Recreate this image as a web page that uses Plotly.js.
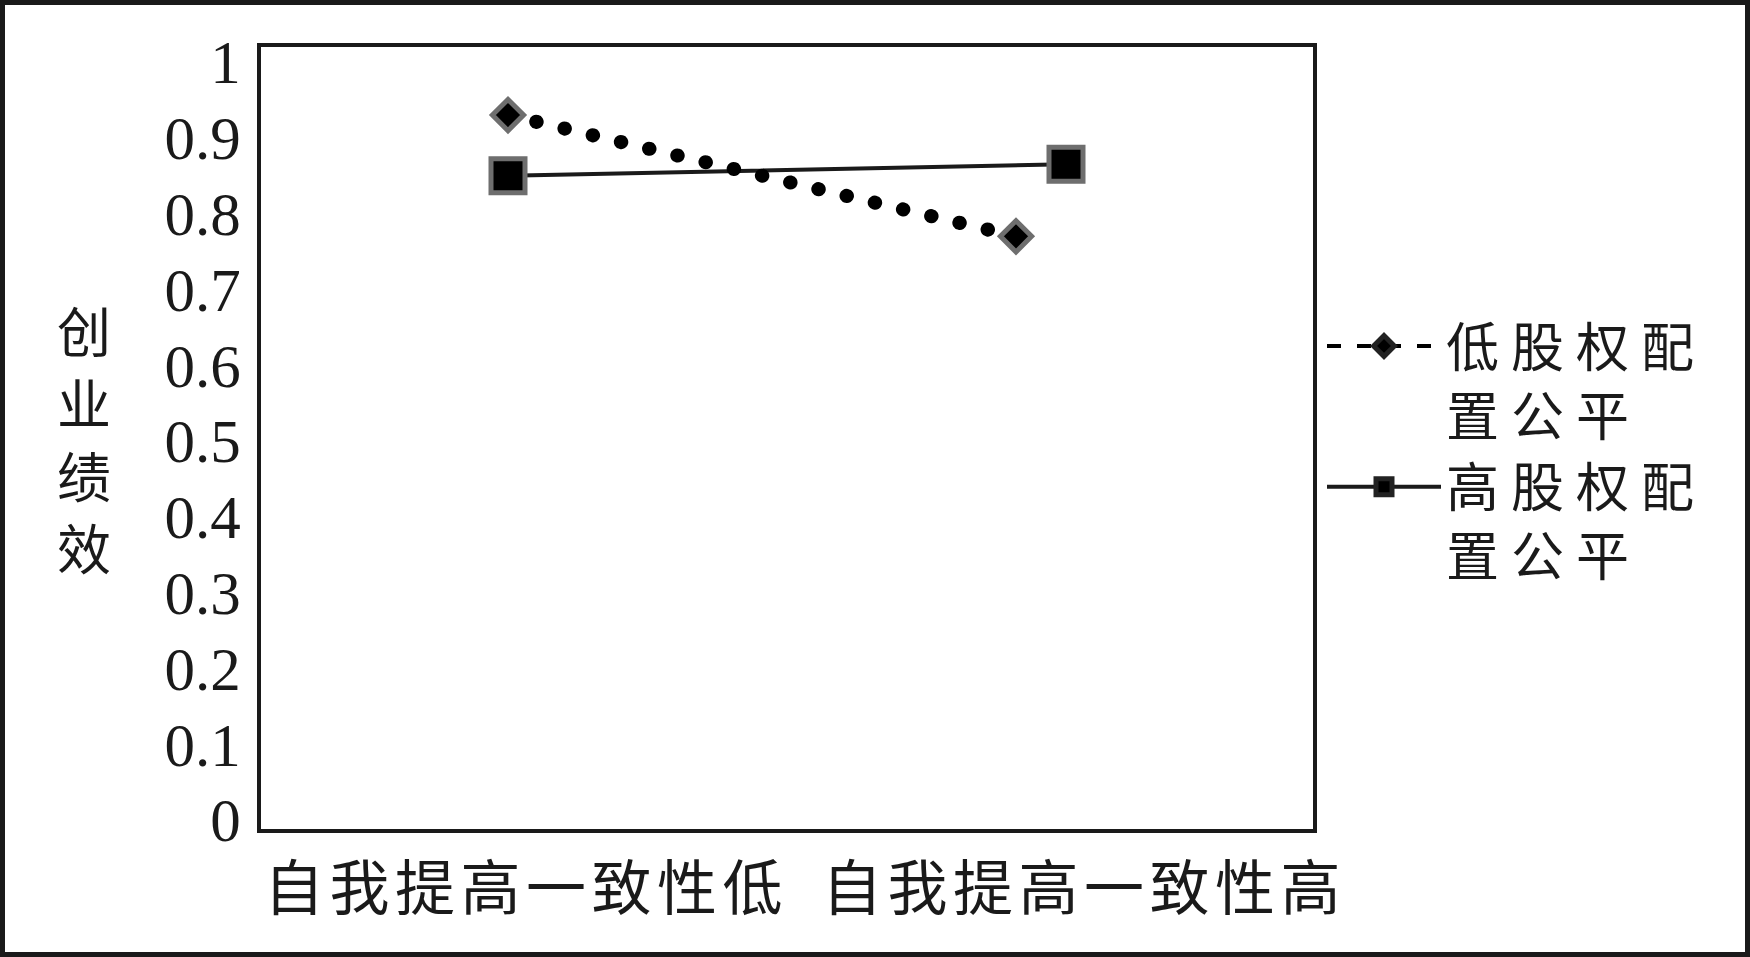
<!DOCTYPE html>
<html>
<head>
<meta charset="utf-8">
<script src="https://cdn.plot.ly/plotly-3.0.1.min.js"></script>
<style>
html, body { margin: 0; padding: 0; background: #fff; }
#chart { width: 1750px; height: 957px; }
.scatterlayer .js-line { stroke-linecap: round; }
.legend .legendlines path.js-line { stroke-linecap: butt; }
.legend .traces:first-child .legendlines path.js-line { stroke-dasharray: 14px 16px !important; stroke-width: 4px !important; }
.legend .legendpoints path { stroke: #222 !important; }
.legend .scrollbox, .legend g, .legend { clip-path: none !important; }
.xtick text { letter-spacing: 5.5px; }
.legend text.legendtext { letter-spacing: 12px; }
</style>
</head>
<body>
<div id="chart"></div>
<script>
// ---- data ----
const categories = ['自我提高一致性低', '自我提高一致性高'];
const seriesNames = ['低股权配<br>置公平', '高股权配<br>置公平'];
const lowEquityFairness = [0.93, 0.77];
const highEquityFairness = [0.85, 0.865];
const yTickValues = [0, 0.1, 0.2, 0.3, 0.4, 0.5, 0.6, 0.7, 0.8, 0.9, 1];
const yTickLabels = ['0', '0.1', '0.2', '0.3', '0.4', '0.5', '0.6', '0.7', '0.8', '0.9', '1'];
const yTitleChars = ['创', '业', '绩', '效'];

// ---- layout geometry (pixels) ----
const W = 1750, H = 957;
const M = { l: 261, r: 437, t: 47, b: 128 };
const pw = W - M.l - M.r, ph = H - M.t - M.b;
const px2x = (px) => (px - M.l) / pw;
const py2y = (py) => (H - M.b - py) / ph;
// category axis range from pixel anchors of the two categories
const catRange = (p0, p1) => {
  const u = p1 - p0;
  return [(M.l - p0) / u, (W - M.r - p0) / u];
};
// value axis range from pixel anchors of 0 and 1
const y0px = 820, y1px = 62;
const yu = y0px - y1px;
const yRange = [-((H - M.b) - y0px) / yu, 1 + (y1px - M.t) / yu];

const cjk = '"Noto Sans CJK SC", "Noto Sans CJK JP", sans-serif';
const serif = '"Liberation Serif", "Times New Roman", serif';

const traces = [
  {
    type: 'scatter', mode: 'lines+markers',
    name: seriesNames[0],
    x: categories, y: lowEquityFairness,
    xaxis: 'x2', yaxis: 'y',
    line: { color: '#000', width: 14, dash: '0.5px,28.5px' },
    marker: { symbol: 'diamond', size: 24, color: '#000', line: { color: '#6e6e6e', width: 5 } },
    hoverinfo: 'skip'
  },
  {
    type: 'scatter', mode: 'lines+markers',
    name: seriesNames[1],
    x: categories, y: highEquityFairness,
    xaxis: 'x', yaxis: 'y',
    line: { color: '#1a1a1a', width: 4 },
    marker: { symbol: 'square', size: 34, color: '#000', line: { color: '#6e6e6e', width: 5 } },
    hoverinfo: 'skip'
  }
];

const annotations = yTitleChars.map((ch, i) => ({
  xref: 'paper', yref: 'paper', x: px2x(84), y: py2y(329 + i * 72.5),
  xanchor: 'center', yanchor: 'middle', showarrow: false, borderpad: 0,
  text: ch, font: { family: cjk, size: 54, color: '#1a1a1a' }
}));

const layout = {
  width: W, height: H,
  margin: M,
  paper_bgcolor: '#fff', plot_bgcolor: '#fff',
  showlegend: true,
  xaxis: {
    type: 'category', categoryorder: 'array', categoryarray: categories,
    range: catRange(508, 1066), fixedrange: true,
    showgrid: false, zeroline: false,
    showline: true, linecolor: '#1a1a1a', linewidth: 4, mirror: true,
    ticks: '', ticklabelstandoff: 5, ticklabelshift: 18,
    tickfont: { family: cjk, size: 60, color: '#1a1a1a' }
  },
  xaxis2: {
    type: 'category', categoryorder: 'array', categoryarray: categories,
    overlaying: 'x', range: catRange(508, 1016), fixedrange: true,
    visible: false
  },
  yaxis: {
    range: yRange, fixedrange: true,
    showgrid: false, zeroline: false,
    showline: true, linecolor: '#1a1a1a', linewidth: 4, mirror: true,
    ticks: '', tickmode: 'array', tickvals: yTickValues, ticktext: yTickLabels,
    ticklabelstandoff: 4,
    tickfont: { family: serif, size: 61, color: '#1a1a1a' }
  },
  legend: {
    x: px2x(1322), y: py2y(305), xanchor: 'left', yanchor: 'top',
    bgcolor: 'rgba(0,0,0,0)', borderwidth: 0,
    font: { family: cjk, size: 53, color: '#1a1a1a' },
    valign: 'top', itemwidth: 114, itemsizing: 'trace'
  },
  annotations: annotations,
  shapes: [
    {
      type: 'rect', xref: 'paper', yref: 'paper',
      x0: px2x(2.5), x1: px2x(W - 2.5), y0: py2y(H - 2.5), y1: py2y(2.5),
      line: { color: '#1a1a1a', width: 5 }, fillcolor: 'rgba(0,0,0,0)', layer: 'above'
    }
  ]
};

Plotly.newPlot('chart', traces, layout, { displayModeBar: false, staticPlot: true });
</script>
</body>
</html>
